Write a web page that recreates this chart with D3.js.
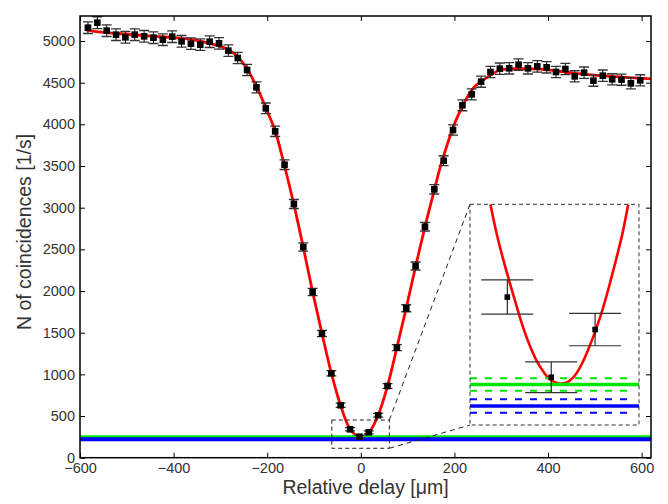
<!DOCTYPE html>
<html>
  <head>
    <meta charset="utf-8" />
    <title>Coincidence dip</title>
    <script src="https://d3js.org/d3.v7.min.js"></script>
    <style>
      body { margin: 0; background: #fff; }
      svg text { font-family: "Liberation Sans", Arial, Helvetica, sans-serif; fill: #333; }
    </style>
  </head>
  <body>
    <svg width="668" height="504" id="chart"></svg>
    <script>
      // measured coincidences, one point every 20 um
      var delay = [-583, -563, -543, -523, -503, -483, -463, -443, -423, -403,
                   -383, -363, -343, -323, -303, -283, -263, -243, -223, -203,
                   -183, -163, -143, -123, -103, -83, -63, -43, -23, -3,
                   17, 37, 57, 77, 97, 117, 137, 157, 177, 197,
                   217, 237, 257, 277, 297, 317, 337, 357, 377, 397,
                   417, 437, 457, 477, 497, 517, 537, 557, 577, 597];
      var counts = [5160, 5220, 5124, 5076, 5044, 5076, 5056, 5040, 5016, 5052,
                    4996, 4968, 4956, 4992, 4972, 4884, 4796, 4652, 4444, 4192,
                    3916, 3516, 3044, 2528, 1988, 1490, 1013, 629, 341, 252,
                    305, 509, 860, 1320, 1793, 2300, 2772, 3220, 3564, 3932,
                    4228, 4360, 4512, 4628, 4668, 4672, 4716, 4672, 4696, 4684,
                    4628, 4664, 4576, 4620, 4524, 4584, 4540, 4536, 4492, 4528];
      var errs = [70, 71, 70, 70, 70, 70, 70, 70, 70, 70,
                  70, 69, 69, 70, 69, 69, 68, 67, 66, 64,
                  62, 58, 54, 50, 44, 38, 32, 25, 19, 17,
                  18, 23, 29, 36, 42, 48, 52, 56, 59, 62,
                  65, 66, 67, 68, 68, 68, 69, 68, 69, 68,
                  68, 68, 67, 68, 67, 68, 67, 67, 67, 67];

      // fitted curve
      var fitDelay = [-590, -560, -520, -480, -440, -400, -360, -336, -300, -283,
                      -265, -244, -222, -201, -183, -163, -143, -123, -103, -83,
                      -63, -43, -23, -3, 17, 37, 57, 77, 97, 117,
                      137, 157, 170, 205, 240, 257, 280, 298, 347, 383,
                      454, 526, 620];
      var fitCounts = [5138, 5110, 5090, 5072, 5056, 5040, 5016, 4990, 4935, 4895,
                       4822, 4672, 4444, 4172, 3920, 3500, 3040, 2525, 1990, 1490,
                       1015, 625, 345, 248, 300, 510, 860, 1320, 1795, 2295,
                       2770, 3210, 3492, 4072, 4432, 4512, 4600, 4652, 4668, 4662,
                       4615, 4580, 4545];

      // the red curve as drawn in the zoomed inset
      var zoomFitDelay = [-30.7, -28.0, -25.0, -22.0, -18.9, -15.9, -12.9, -9.8, -6.8, -3.8,
                          -0.7, 2.3, 5.3, 8.4, 11.4, 14.4, 17.5, 20.5, 23.5, 26.5, 29.5, 32.1];
      var zoomFitCounts = [444, 413, 384, 358, 332, 308, 288, 271, 259, 250,
                           246, 245, 248, 256, 269, 286, 306, 328, 354, 382, 412, 444];

      // reference levels and their uncertainty bands
      var levelNames = ["green", "blue"];
      var levelValues = [244, 220];
      var levelSpread = [7, 7.5];

      var xTicks = [-600, -400, -200, 0, 200, 400, 600];
      var yTicks = [0, 500, 1000, 1500, 2000, 2500, 3000, 3500, 4000, 4500, 5000];

      // zoomed region: small box in the main plot and the inset's own range
      var zoomBoxDelay = [-62, 61];
      var zoomBoxCounts = [113, 452];
      var insetDelay = [-40, 37];
      var insetCounts = [199, 444];

      var levelColor = { green: "#00e600", blue: "#0000ff" };

      var svg = d3.select("#chart");
      var pLeft = 80, pRight = 651, pTop = 16, pBottom = 457.7;

      var x = d3.scaleLinear().domain([-600, 620]).range([pLeft, pRight]);
      var y = d3.scaleLinear().domain([0, 5300]).range([pBottom, pTop]);

      var points = delay.map(function(d, i) {
        return { x: d, y: counts[i], e: errs[i] };
      });
      var fit = fitDelay.map(function(d, i) { return [d, fitCounts[i]]; });
      var zoomFit = zoomFitDelay.map(function(d, i) { return [d, zoomFitCounts[i]]; });
      var levels = levelNames.map(function(n, i) {
        return { name: n, v: levelValues[i], s: levelSpread[i] };
      });

      svg.append("clipPath").attr("id", "plotclip")
        .append("rect").attr("x", pLeft).attr("y", pTop)
        .attr("width", pRight - pLeft).attr("height", pBottom - pTop);

      var plot = svg.append("g").attr("clip-path", "url(#plotclip)");

      // red fit
      var line = d3.line()
        .x(function(d) { return x(d[0]); })
        .y(function(d) { return y(d[1]); })
        .curve(d3.curveCatmullRom.alpha(0.5));
      plot.append("path").datum(fit)
        .attr("d", line)
        .attr("fill", "none").attr("stroke", "#ff0000").attr("stroke-width", 2.8);

      // reference levels
      plot.selectAll(".level").data(levels).enter().append("line")
        .attr("class", "level")
        .attr("x1", pLeft).attr("x2", pRight)
        .attr("y1", function(d) { return y(d.v); })
        .attr("y2", function(d) { return y(d.v); })
        .attr("stroke", function(d) { return levelColor[d.name]; })
        .attr("stroke-width", 4);

      // error bars
      var eb = plot.selectAll(".eb").data(points).enter().append("g").attr("class", "eb");
      eb.append("line")
        .attr("x1", function(d) { return x(d.x); }).attr("x2", function(d) { return x(d.x); })
        .attr("y1", function(d) { return y(d.y - d.e); })
        .attr("y2", function(d) { return y(d.y + d.e); })
        .attr("stroke", "#000").attr("stroke-width", 1);
      [-1, 1].forEach(function(sgn) {
        eb.append("line")
          .attr("x1", function(d) { return x(d.x) - 5; })
          .attr("x2", function(d) { return x(d.x) + 5; })
          .attr("y1", function(d) { return y(d.y + sgn * d.e); })
          .attr("y2", function(d) { return y(d.y + sgn * d.e); })
          .attr("stroke", "#333").attr("stroke-width", 1.3);
      });
      plot.selectAll(".pt").data(points).enter().append("rect")
        .attr("class", "pt")
        .attr("x", function(d) { return x(d.x) - 3.3; })
        .attr("y", function(d) { return y(d.y) - 3.3; })
        .attr("width", 6.6).attr("height", 6.6)
        .attr("fill", "#000");

      // axes, ticks pointing inward on all four sides
      svg.append("g").attr("transform", "translate(0," + pBottom + ")")
        .call(d3.axisBottom(x).tickValues(xTicks).tickSize(-5).tickPadding(5).tickFormat(d3.format("d")))
        .call(styleAxis);
      svg.append("g").attr("transform", "translate(0," + pTop + ")")
        .call(d3.axisTop(x).tickValues(xTicks).tickSize(-5).tickFormat(""))
        .call(styleAxis);
      svg.append("g").attr("transform", "translate(" + pLeft + ",0)")
        .call(d3.axisLeft(y).tickValues(yTicks).tickSize(-5).tickPadding(5).tickFormat(d3.format("d")))
        .call(styleAxis);
      svg.append("g").attr("transform", "translate(" + pRight + ",0)")
        .call(d3.axisRight(y).tickValues(yTicks).tickSize(-5).tickFormat(""))
        .call(styleAxis);

      function styleAxis(g) {
        g.select(".domain").remove();
        g.selectAll(".tick line").attr("stroke", "#000").attr("stroke-width", 1);
        g.selectAll(".tick text").attr("font-size", 14.5).attr("fill", "#333")
          .attr("font-family", "'Liberation Sans', Arial, sans-serif");
      }

      svg.append("rect")
        .attr("x", pLeft).attr("y", pTop)
        .attr("width", pRight - pLeft).attr("height", pBottom - pTop)
        .attr("fill", "none").attr("stroke", "#000").attr("stroke-width", 1.5);

      // zoom box and connectors
      var bx0 = x(zoomBoxDelay[0]), bx1 = x(zoomBoxDelay[1]);
      var by0 = y(zoomBoxCounts[1]), by1 = y(zoomBoxCounts[0]);
      var insetL = 470, insetR = 639, insetT = 204.3, insetB = 425;

      svg.append("rect")
        .attr("x", bx0).attr("y", by0).attr("width", bx1 - bx0).attr("height", by1 - by0)
        .attr("fill", "none").attr("stroke", "#222").attr("stroke-width", 1)
        .attr("stroke-dasharray", "4,3");
      svg.append("line")
        .attr("x1", bx1).attr("y1", by0).attr("x2", insetL).attr("y2", insetT)
        .attr("stroke", "#222").attr("stroke-width", 1).attr("stroke-dasharray", "5,4");
      svg.append("line")
        .attr("x1", bx1).attr("y1", by1).attr("x2", insetL).attr("y2", insetB)
        .attr("stroke", "#222").attr("stroke-width", 1).attr("stroke-dasharray", "5,4");

      // inset
      var ix = d3.scaleLinear().domain(insetDelay).range([insetL, insetR]);
      var iy = d3.scaleLinear().domain(insetCounts).range([insetB, insetT]);
      svg.append("clipPath").attr("id", "insetclip")
        .append("rect").attr("x", insetL).attr("y", insetT)
        .attr("width", insetR - insetL).attr("height", insetB - insetT);
      var inset = svg.append("g").attr("clip-path", "url(#insetclip)");
      inset.append("rect")
        .attr("x", insetL).attr("y", insetT)
        .attr("width", insetR - insetL).attr("height", insetB - insetT)
        .attr("fill", "#fff");

      var iline = d3.line()
        .x(function(d) { return ix(d[0]); })
        .y(function(d) { return iy(d[1]); })
        .curve(d3.curveCatmullRom.alpha(0.5));
      inset.append("path").datum(zoomFit)
        .attr("d", iline)
        .attr("fill", "none").attr("stroke", "#ff0000").attr("stroke-width", 2.6);

      levels.forEach(function(d) {
        inset.append("line")
          .attr("x1", insetL).attr("x2", insetR)
          .attr("y1", iy(d.v)).attr("y2", iy(d.v))
          .attr("stroke", levelColor[d.name]).attr("stroke-width", 3.5);
        [-1, 1].forEach(function(sgn) {
          inset.append("line")
            .attr("x1", insetL).attr("x2", insetR - 7)
            .attr("y1", iy(d.v + sgn * d.s)).attr("y2", iy(d.v + sgn * d.s))
            .attr("stroke", levelColor[d.name]).attr("stroke-width", 2)
            .attr("stroke-dasharray", "7,8");
        });
      });

      var ipts = points.filter(function(d) { return d.x > insetDelay[0] && d.x < insetDelay[1]; });
      var ieb = inset.selectAll(".ieb").data(ipts).enter().append("g");
      ieb.append("line")
        .attr("x1", function(d) { return ix(d.x); }).attr("x2", function(d) { return ix(d.x); })
        .attr("y1", function(d) { return iy(d.y - d.e); })
        .attr("y2", function(d) { return iy(d.y + d.e); })
        .attr("stroke", "#000").attr("stroke-width", 1);
      [-1, 1].forEach(function(sgn) {
        ieb.append("line")
          .attr("x1", function(d) { return ix(d.x) - 26; })
          .attr("x2", function(d) { return ix(d.x) + 26; })
          .attr("y1", function(d) { return iy(d.y + sgn * d.e); })
          .attr("y2", function(d) { return iy(d.y + sgn * d.e); })
          .attr("stroke", "#333").attr("stroke-width", 1.2);
      });
      ieb.append("rect")
        .attr("x", function(d) { return ix(d.x) - 2.8; })
        .attr("y", function(d) { return iy(d.y) - 2.8; })
        .attr("width", 5.6).attr("height", 5.6)
        .attr("fill", "#000");

      svg.append("rect")
        .attr("x", insetL).attr("y", insetT)
        .attr("width", insetR - insetL).attr("height", insetB - insetT)
        .attr("fill", "none").attr("stroke", "#333").attr("stroke-width", 1)
        .attr("stroke-dasharray", "4,3");

      // axis titles
      svg.append("text")
        .attr("x", (pLeft + pRight) / 2).attr("y", 494)
        .attr("text-anchor", "middle").attr("font-size", 19.5)
        .text("Relative delay [\u03bcm]");
      svg.append("text")
        .attr("transform", "translate(31,232) rotate(-90)")
        .attr("text-anchor", "middle").attr("font-size", 19.5)
        .text("N of coincidences [1/s]");
    </script>
  </body>
</html>
